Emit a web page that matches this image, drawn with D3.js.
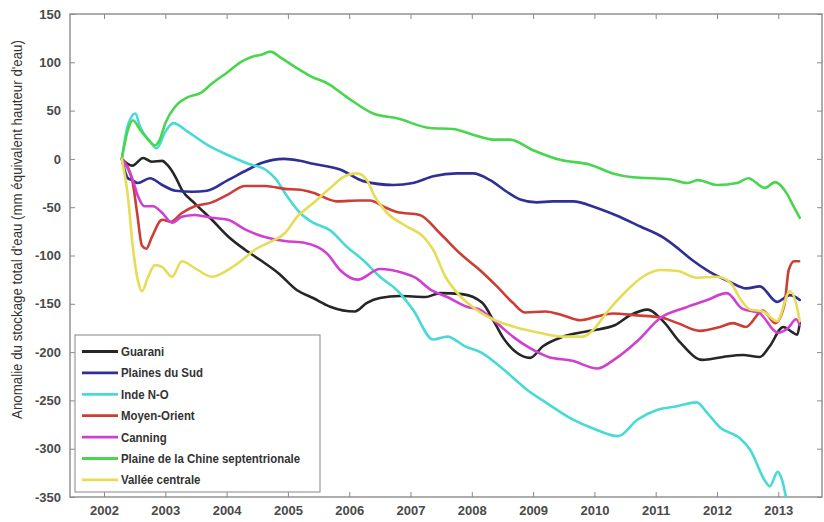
<!DOCTYPE html>
<html>
<head>
<meta charset="utf-8">
<script src="https://cdn.jsdelivr.net/npm/d3@7"></script>
<style>
  html, body { margin: 0; padding: 0; background: #fff; }
  svg { display: block; }
  .tick-label { font-family: "Liberation Sans", Arial, sans-serif; font-size: 13px; font-weight: bold; fill: #4a4a4a; }
  .legend-label { font-family: "Liberation Sans", Arial, sans-serif; font-size: 13px; font-weight: bold; fill: #333; }
  .y-title { font-family: "Liberation Sans", Arial, sans-serif; font-size: 14px; fill: #333; }
</style>
</head>
<body>
<svg id="chart" width="824" height="522"></svg>
<script>
// Groundwater storage anomalies (GRACE), mm water-equivalent height, by aquifer region.
// Each series: [decimal year, anomaly in mm]
const guarani = [
  [2002.29, 0], [2002.46, -7], [2002.64, 1], [2002.78, -3], [2002.95, -2], [2003.03, -6],
  [2003.16, -18], [2003.27, -32], [2003.48, -46], [2003.76, -63], [2004.02, -80], [2004.3, -94],
  [2004.58, -106], [2004.84, -118], [2005.15, -136], [2005.41, -144], [2005.69, -153], [2006.09, -158],
  [2006.29, -149], [2006.5, -144], [2006.83, -142], [2007.24, -143], [2007.48, -139], [2007.84, -140],
  [2008.17, -149], [2008.35, -167], [2008.51, -185], [2008.74, -201], [2008.95, -206], [2009.16, -194],
  [2009.49, -184], [2009.93, -178], [2010.34, -172], [2010.58, -162], [2010.87, -156], [2011.12, -168],
  [2011.4, -190], [2011.76, -208], [2012.1, -205], [2012.42, -203], [2012.7, -205], [2012.86, -194],
  [2013.08, -174], [2013.22, -179], [2013.31, -182], [2013.35, -170]
];
const plainesDuSud = [
  [2002.29, 0], [2002.39, -20], [2002.46, -22], [2002.55, -25], [2002.75, -20], [2002.95, -27],
  [2003.17, -33], [2003.44, -34], [2003.68, -33], [2004.02, -22], [2004.35, -11], [2004.58, -4],
  [2004.94, 0], [2005.2, -2], [2005.41, -5], [2005.85, -11], [2006.23, -23], [2006.72, -27],
  [2007.04, -25], [2007.37, -18], [2007.76, -15], [2008.02, -15], [2008.3, -22], [2008.57, -34],
  [2008.79, -42], [2009.06, -45], [2009.32, -44], [2009.65, -44], [2010.01, -50], [2010.34, -58],
  [2010.75, -70], [2011.14, -82], [2011.39, -94], [2011.6, -105], [2011.88, -117], [2012.2, -127],
  [2012.48, -134], [2012.7, -132], [2012.98, -148], [2013.19, -141], [2013.35, -146]
];
const indeNO = [
  [2002.29, 0], [2002.39, 35], [2002.51, 47], [2002.59, 33], [2002.75, 18], [2002.86, 11],
  [2003.0, 28], [2003.13, 37], [2003.37, 28], [2003.7, 14], [2004.02, 4], [2004.35, -5],
  [2004.63, -11], [2004.79, -20], [2004.99, -39], [2005.2, -56], [2005.41, -66], [2005.69, -74],
  [2005.96, -91], [2006.23, -105], [2006.5, -122], [2006.78, -136], [2007.04, -156], [2007.37, -187],
  [2007.6, -184], [2007.89, -194], [2008.17, -201], [2008.46, -215], [2008.7, -228], [2008.9, -239],
  [2009.23, -253], [2009.57, -267], [2009.98, -279], [2010.39, -287], [2010.7, -270], [2011.02, -260],
  [2011.35, -256], [2011.67, -252], [2011.84, -263], [2012.05, -278], [2012.37, -289], [2012.54, -301],
  [2012.8, -335], [2012.86, -339], [2012.99, -324], [2013.06, -332], [2013.14, -355]
];
const moyenOrient = [
  [2002.29, 0], [2002.46, -22], [2002.54, -56], [2002.62, -90], [2002.69, -93], [2002.78, -81],
  [2002.95, -63], [2003.09, -65], [2003.27, -56], [2003.48, -49], [2003.76, -45], [2004.02, -37],
  [2004.3, -28], [2004.63, -28], [2004.95, -31], [2005.2, -32], [2005.41, -35], [2005.8, -44],
  [2006.17, -43], [2006.34, -43], [2006.58, -50], [2006.78, -55], [2007.15, -58], [2007.48, -77],
  [2007.81, -98], [2008.13, -115], [2008.41, -132], [2008.67, -149], [2008.87, -159], [2009.2, -158],
  [2009.49, -162], [2009.77, -167], [2010.05, -163], [2010.3, -160], [2010.7, -162], [2011.07, -164],
  [2011.36, -170], [2011.72, -178], [2012.05, -174], [2012.26, -170], [2012.47, -174], [2012.75, -157],
  [2012.95, -170], [2013.1, -151], [2013.17, -115], [2013.26, -106], [2013.34, -106]
];
const canning = [
  [2002.29, 0], [2002.39, -10], [2002.47, -22], [2002.55, -38], [2002.66, -49], [2002.8, -49],
  [2002.95, -56], [2003.11, -66], [2003.27, -60], [2003.48, -58], [2003.76, -61], [2004.02, -63],
  [2004.3, -73], [2004.58, -80], [2004.95, -85], [2005.28, -87], [2005.64, -98], [2005.85, -115],
  [2006.14, -125], [2006.5, -114], [2006.88, -118], [2007.08, -123], [2007.32, -135], [2007.6, -143],
  [2007.92, -153], [2008.13, -156], [2008.41, -170], [2008.67, -184], [2008.95, -196], [2009.25, -205],
  [2009.64, -209], [2010.05, -217], [2010.34, -207], [2010.71, -188], [2011.07, -165], [2011.48, -154],
  [2011.84, -146], [2012.16, -139], [2012.41, -155], [2012.7, -160], [2012.99, -180], [2013.16, -175],
  [2013.29, -166], [2013.35, -172]
];
const chineNord = [
  [2002.29, 0], [2002.39, 30], [2002.47, 40], [2002.59, 30], [2002.72, 20], [2002.83, 14],
  [2002.91, 20], [2003.0, 37], [2003.16, 54], [2003.37, 64], [2003.57, 68], [2003.76, 78],
  [2004.02, 90], [2004.25, 101], [2004.43, 106], [2004.58, 108], [2004.71, 111], [2004.9, 104],
  [2005.12, 95], [2005.39, 85], [2005.65, 78], [2005.96, 64], [2006.39, 47], [2006.78, 42],
  [2007.32, 32], [2007.69, 31], [2008.02, 25], [2008.35, 20], [2008.62, 20], [2009.0, 9],
  [2009.44, -1], [2009.93, -6], [2010.3, -15], [2010.63, -19], [2011.23, -21], [2011.51, -25],
  [2011.69, -22], [2012.0, -27], [2012.33, -25], [2012.51, -20], [2012.78, -30], [2012.95, -24],
  [2013.14, -36], [2013.24, -48], [2013.35, -61]
];
const valleeCentrale = [
  [2002.29, 0], [2002.39, -39], [2002.47, -91], [2002.55, -125], [2002.62, -137], [2002.72, -122],
  [2002.83, -110], [2002.95, -112], [2003.11, -122], [2003.27, -106], [2003.48, -113], [2003.76, -122],
  [2004.02, -115], [2004.25, -105], [2004.46, -94], [2004.71, -86], [2004.95, -77], [2005.15, -60],
  [2005.41, -46], [2005.69, -30], [2005.96, -17], [2006.13, -15], [2006.29, -22], [2006.4, -37],
  [2006.62, -56], [2006.94, -70], [2007.2, -80], [2007.37, -94], [2007.57, -122], [2007.78, -140],
  [2008.05, -155], [2008.38, -167], [2008.7, -174], [2009.1, -180], [2009.49, -184], [2009.81, -184],
  [2009.98, -177], [2010.2, -159], [2010.5, -138], [2010.79, -122], [2011.07, -115], [2011.36, -116],
  [2011.67, -123], [2012.0, -122], [2012.23, -129], [2012.39, -146], [2012.54, -156], [2012.75, -158],
  [2012.98, -168], [2013.19, -137], [2013.31, -155], [2013.35, -168]
];

const seriesNames = ["Guarani", "Plaines du Sud", "Inde N-O", "Moyen-Orient", "Canning",
                     "Plaine de la Chine septentrionale", "Vallée centrale"];
const seriesData = [guarani, plainesDuSud, indeNO, moyenOrient, canning, chineNord, valleeCentrale];
const seriesColors = ["#262626", "#2f2f96", "#48dad6", "#cc3d36", "#cf40d2", "#48d64e", "#e6dc55"];

const xTicks = [2002, 2003, 2004, 2005, 2006, 2007, 2008, 2009, 2010, 2011, 2012, 2013];
const yTicks = [150, 100, 50, 0, -50, -100, -150, -200, -250, -300, -350];
const yTitle = "Anomalie du stockage total d'eau (mm équivalent hauteur d'eau)";

const plot = { left: 70, right: 822, top: 14, bottom: 497 };

const svg = d3.select("#chart");
const x = d3.scaleLinear().domain([2001.445, 2013.713]).range([plot.left, plot.right]);
const y = d3.scaleLinear().domain([-350, 150]).range([plot.bottom, plot.top]);

svg.append("defs").append("clipPath").attr("id", "plot-clip")
  .append("rect")
  .attr("x", plot.left).attr("y", plot.top)
  .attr("width", plot.right - plot.left).attr("height", plot.bottom - plot.top);

// Axes: ticks point inward on all four sides
const tickLen = 5;
const axisColor = "#8a8a8a";
const bottomAxis = d3.axisBottom(x).tickValues(xTicks).tickSize(-tickLen).tickPadding(9).tickFormat(d3.format("d"));
const topAxis = d3.axisTop(x).tickValues(xTicks).tickSize(-tickLen).tickFormat("");
const leftAxis = d3.axisLeft(y).tickValues(yTicks).tickSize(-tickLen).tickPadding(9).tickFormat(d => d);
const rightAxis = d3.axisRight(y).tickValues(yTicks).tickSize(-tickLen).tickFormat("");

function styleAxis(g) {
  g.select(".domain").remove();
  g.selectAll(".tick line").attr("stroke", axisColor).attr("stroke-width", 1);
  g.selectAll(".tick text").attr("class", "tick-label").attr("fill", null);
}

svg.append("g").attr("transform", `translate(0,${plot.bottom})`).call(bottomAxis).call(styleAxis);
svg.append("g").attr("transform", `translate(0,${plot.top})`).call(topAxis).call(styleAxis);
svg.append("g").attr("transform", `translate(${plot.left},0)`).call(leftAxis).call(styleAxis);
svg.append("g").attr("transform", `translate(${plot.right},0)`).call(rightAxis).call(styleAxis);
svg.append("rect")
  .attr("x", plot.left).attr("y", plot.top)
  .attr("width", plot.right - plot.left).attr("height", plot.bottom - plot.top)
  .attr("fill", "none").attr("stroke", axisColor).attr("stroke-width", 1.4);

// Y-axis title (condensed horizontally, like a narrow face)
svg.append("text")
  .attr("class", "y-title")
  .attr("transform", `translate(22,${(plot.top + plot.bottom) / 2 - 26}) rotate(-90) scale(0.95,1)`)
  .attr("text-anchor", "middle")
  .text(yTitle);

// Series lines
const line = d3.line()
  .x(d => x(d[0]))
  .y(d => y(d[1]))
  .curve(d3.curveMonotoneX);

const linesG = svg.append("g").attr("clip-path", "url(#plot-clip)");
seriesData.forEach((data, i) => {
  linesG.append("path")
    .datum(data)
    .attr("d", line)
    .attr("fill", "none")
    .attr("stroke", seriesColors[i])
    .attr("stroke-width", 2.6)
    .attr("stroke-linejoin", "round")
    .attr("stroke-linecap", "round");
});

// Legend
const legend = { x: 75, y: 335, w: 245, h: 157, rowStart: 351.5, rowStep: 21.4 };
const lg = svg.append("g");
lg.append("rect")
  .attr("x", legend.x).attr("y", legend.y)
  .attr("width", legend.w).attr("height", legend.h)
  .attr("fill", "#fff").attr("stroke", "#9a9a9a").attr("stroke-width", 1.2);
seriesNames.forEach((name, i) => {
  const cy = legend.rowStart + i * legend.rowStep;
  lg.append("line")
    .attr("x1", legend.x + 7).attr("x2", legend.x + 43)
    .attr("y1", cy).attr("y2", cy)
    .attr("stroke", seriesColors[i]).attr("stroke-width", 2.8);
  lg.append("text")
    .attr("class", "legend-label")
    .attr("transform", `translate(${legend.x + 46},${cy + 4.5}) scale(0.88,1)`)
    .text(name);
});
</script>
</body>
</html>
